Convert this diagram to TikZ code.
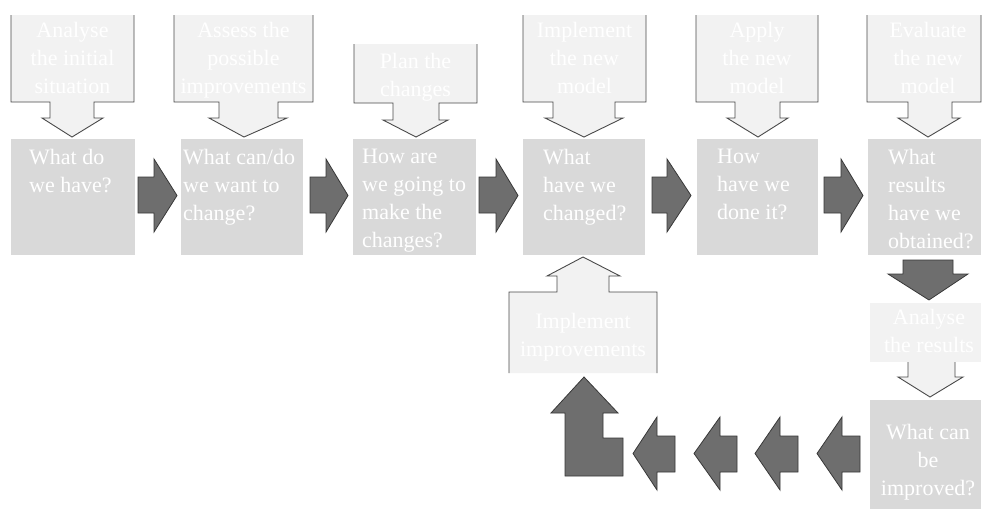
\documentclass[tikz,border=0pt]{standalone}
\usepackage{fontspec}
\setmainfont{Liberation Serif}
\definecolor{boxgray}{HTML}{D9D9D9}
\definecolor{callfill}{HTML}{F2F2F2}
\definecolor{calline}{HTML}{4A4A4A}
\definecolor{darkfill}{HTML}{6E6E6E}
\definecolor{darkline}{HTML}{383838}
\newcommand\qfont{\fontsize{22}{28}\selectfont}
\tikzset{
  qbox/.style={fill=boxgray, draw=none, inner sep=0pt, outer sep=0pt, anchor=north west},
  lbox/.style={fill=callfill, draw=none, inner sep=0pt, outer sep=0pt, anchor=north west},
  callfillstyle/.style={fill=callfill, draw=none},
  callline/.style={draw=calline, line width=0.9pt, line join=miter},
  darkarrow/.style={fill=darkfill, draw=darkline, line width=0.8pt, line join=miter},
  qtext/.style={text=white, font=\qfont, align=left, inner sep=0pt, anchor=north west},
  ctext/.style={text=white, font=\qfont, align=center, inner sep=0pt, anchor=north},
}
\begin{document}
\begin{tikzpicture}[x=1pt,y=-1pt]
\useasboundingbox[fill=white] (0,0) rectangle (982,509);

% ---- top callouts: #1 left, #2 right, #3 top, #4 bottom, #5 stemL, #6 stemR, #7 stemB, #8 wingL, #9 wingR, tip x, tip y
\newcommand\callout[9]{%
  \fill[callfillstyle] (#1,#3) -- (#1,#4) -- (#5,#4) -- (#5,#7) -- (#8,#7) -- (\tipx,137) -- (#9,#7) -- (#6,#7) -- (#6,#4) -- (#2,#4) -- (#2,#3) -- cycle;
  \draw[callline] (#1,#3) -- (#1,#4) -- (#5,#4) -- (#5,#7) -- (#8,#7) -- (\tipx,137) -- (#9,#7) -- (#6,#7) -- (#6,#4) -- (#2,#4) -- (#2,#3);
}
\def\tipx{72}  \callout{11}{134}{15}{102}{50}{94}{118}{42}{103}
\def\tipx{244} \callout{174}{313}{15}{102}{219}{278}{118}{209}{287}
\def\tipx{416} \callout{354}{477}{44}{103}{393}{439}{120}{383}{448}
\def\tipx{584} \callout{523}{646}{15}{102}{553}{615}{118}{545}{623}
\def\tipx{758} \callout{696}{818}{15}{102}{735}{780}{118}{727}{788}
\def\tipx{928} \callout{867}{981}{15}{102}{908}{952}{118}{898}{960}

\node[ctext] (c1) at (72.5,22) {Analyse\\the initial\\situation};
\node[ctext] (c2) at (243.5,22) {Assess the\\possible\\improvements};
\node[ctext] (c3) at (415.5,53) {Plan the\\changes};
\node[ctext] (c4) at (584.5,22) {Implement\\the new\\model};
\node[ctext] (c5) at (757,22) {Apply\\the new\\model};
\node[ctext] (c6) at (928,22) {Evaluate\\the new\\model};

% ---- question boxes
\node[qbox, minimum width=124pt, minimum height=116pt] (b1) at (11,139) {};
\node[qbox, minimum width=122pt, minimum height=116pt] (b2) at (181,139) {};
\node[qbox, minimum width=123pt, minimum height=116pt] (b3) at (353,139) {};
\node[qbox, minimum width=122pt, minimum height=116pt] (b4) at (523,139) {};
\node[qbox, minimum width=121pt, minimum height=116pt] (b5) at (697,139) {};
\node[qbox, minimum width=113pt, minimum height=116pt] (b6) at (868,139) {};

\node[qtext] (q1) at (29,149) {What do\\we have?};
\node[qtext] (q2) at (183,149) {What can/do\\we want to\\change?};
\node[qtext] (q3) at (362,149) {How are\\we going to\\make the\\changes?};
\node[qtext] (q4) at (543,149) {What\\have we\\changed?};
\node[qtext] (q5) at (717,149) {How\\have we\\done it?};
\node[qtext] (q6) at (888,149) {What\\results\\have we\\obtained?};

% ---- right-pointing dark arrows: body left, head base, tip
\newcommand\rarrow[3]{%
  \draw[darkarrow] (#1,177) -- (#2,177) -- (#2,159) -- (#3,195.5) -- (#2,232) -- (#2,213) -- (#1,213) -- cycle;}
\rarrow{138}{154}{177}
\rarrow{310}{326}{348}
\rarrow{479}{496}{518}
\rarrow{652}{667}{691}
\rarrow{824}{841}{863}

% ---- down dark arrow
\draw[darkarrow] (903,260) -- (953,260) -- (953,274) -- (968,274) -- (929,300) -- (888,274) -- (903,274) -- cycle;

% ---- analyse the results
\node[lbox, minimum width=111pt, minimum height=59pt] (ar) at (870,303) {};
\fill[callfillstyle] (908,362) -- (908,377) -- (898,377) -- (930,397) -- (963,377) -- (955,377) -- (955,362) -- cycle;
\draw[callline] (908,362) -- (908,377) -- (898,377) -- (930,397) -- (963,377) -- (955,377) -- (955,362);
\node[ctext] (at) at (929,309) {Analyse\\the results};

% ---- what can be improved
\node[qbox, minimum width=111pt, minimum height=109pt] (wi) at (870,400) {};
\node[ctext] (wt) at (928,424) {What can\\be\\improved?};

% ---- left-pointing dark arrows: tip, head base, body right
\newcommand\larrow[3]{%
  \draw[darkarrow] (#3,436) -- (#2,436) -- (#2,417) -- (#1,453.5) -- (#2,490) -- (#2,472) -- (#3,472) -- cycle;}
\larrow{633}{657}{675}
\larrow{694}{720}{737}
\larrow{755}{780}{798}
\larrow{817}{842}{860}

% ---- L-shaped up arrow
\draw[darkarrow] (565,476) -- (623,476) -- (623,438) -- (603,438) -- (603,413) -- (618,413) -- (584,377) -- (551,413) -- (565,413) -- cycle;

% ---- implement improvements callout
\fill[callfillstyle] (509,373) -- (509,292) -- (557,292) -- (557,276) -- (547,276) -- (583,257) -- (620,276) -- (609,276) -- (609,292) -- (657,292) -- (657,373) -- cycle;
\draw[callline] (509,373) -- (509,292) -- (557,292) -- (557,276) -- (547,276) -- (583,257) -- (620,276) -- (609,276) -- (609,292) -- (657,292) -- (657,373);
\node[ctext] (ii) at (583,313) {Implement\\improvements};
\end{tikzpicture}
\end{document}
